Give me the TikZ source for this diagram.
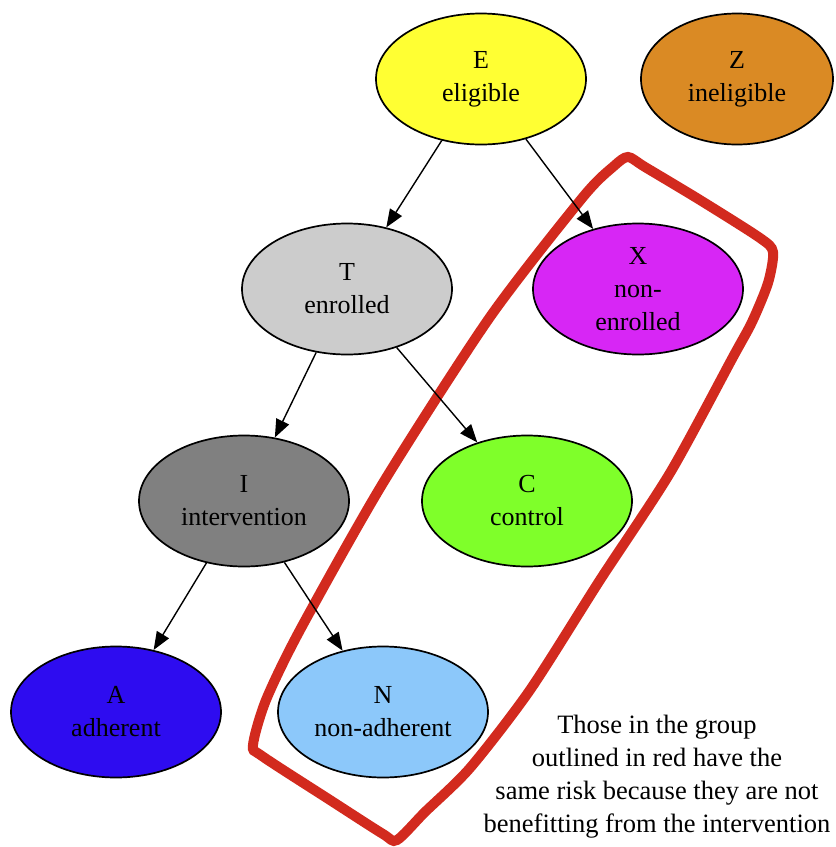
\documentclass[tikz,border=0pt]{standalone}
\usepackage{fontspec}
\setmainfont{Liberation Serif}
\usetikzlibrary{shapes.geometric}
\usetikzlibrary{arrows.meta}
\definecolor{eligcol}{RGB}{255,255,51}
\definecolor{inelcol}{RGB}{218,138,36}
\definecolor{enrolcol}{RGB}{204,204,204}
\definecolor{nonenrcol}{RGB}{215,38,245}
\definecolor{intercol}{RGB}{128,128,128}
\definecolor{ctrlcol}{RGB}{127,255,42}
\definecolor{adhcol}{RGB}{46,12,240}
\definecolor{nonadhcol}{RGB}{140,200,250}
\definecolor{outlinecol}{RGB}{210,42,30}

\begin{document}
\begin{tikzpicture}[x=1pt, y=-1pt,
    group/.style={ellipse, draw=black, line width=1.7pt, minimum width=210pt, minimum height=131pt, inner sep=0pt, align=center, font=\fontsize{26}{33}\selectfont},
    edge/.style={-{Triangle[length=18pt,width=14pt]}, line width=1.4pt}]
            \useasboundingbox (0,0) rectangle (836,847);
            \draw[outlinecol, line width=10pt] plot[smooth cycle, tension=0.45] coordinates {(628,157) (645,167) (700,200) (760,238) (773,252) (768,283) (752,322) (733,357) (670,473) (600,580) (530,690) (470,768) (425,812) (397,840) (383,834) (330,800) (262,756) (253,745) (266,700) (300,630) (383,483) (490,317) (583,197) (614,166)};
            \node[group, fill=eligcol] (E) at (481,79) {E\\eligible};
            \node[group, fill=inelcol, minimum width=192pt] (Z) at (737,79) {Z\\ineligible};
            \node[group, fill=enrolcol] (T) at (347,289) {T\\enrolled};
            \node[group, fill=nonenrcol] (X) at (638,289) {X\\non-\\enrolled};
            \node[group, fill=intercol] (I) at (244,501) {I\\intervention};
            \node[group, fill=ctrlcol] (C) at (527,501) {C\\control};
            \node[group, fill=adhcol] (A) at (116,712) {A\\adherent};
            \node[group, fill=nonadhcol] (N) at (383,712) {N\\non-adherent};
            \draw[edge] (E) -- (T);
            \draw[edge] (E) -- (X);
            \draw[edge] (T) -- (I);
            \draw[edge] (T) -- (C);
            \draw[edge] (I) -- (A);
            \draw[edge] (I) -- (N);
            \node[align=center, font=\fontsize{26.5}{33}\selectfont] (note) at (657,777) {Those in the group\\outlined in red have the\\same risk because they are not\\benefitting from the intervention};

        \end{tikzpicture}
\end{document}
